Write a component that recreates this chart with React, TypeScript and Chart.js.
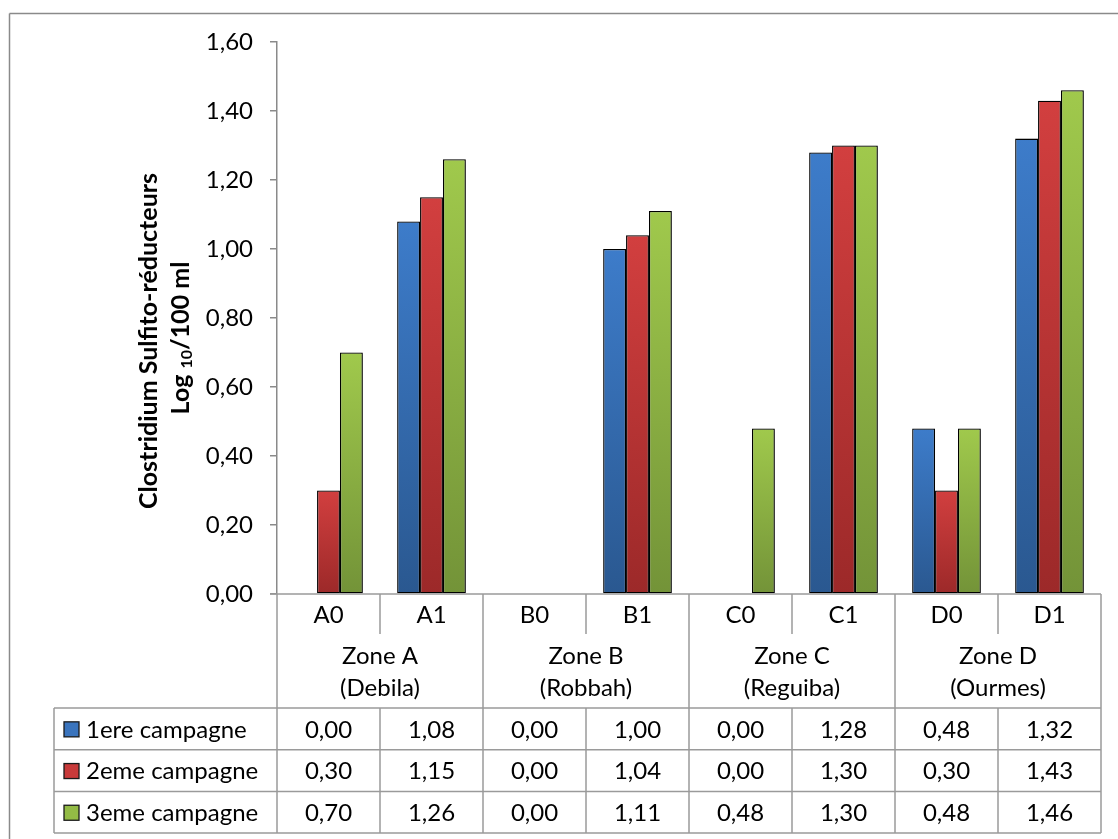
import React, { useEffect, useRef } from "react";
import { Chart, registerables } from "chart.js";

Chart.register(...registerables);

// Sampling points and zones
const categories = ["A0", "A1", "B0", "B1", "C0", "C1", "D0", "D1"];
const zoneNames = ["Zone A", "Zone B", "Zone C", "Zone D"];
const zoneSites = ["(Debila)", "(Robbah)", "(Reguiba)", "(Ourmes)"];

// Series (Log10 / 100 ml)
const seriesNames = ["1ere campagne", "2eme campagne", "3eme campagne"];
const campagne1 = [0.0, 1.08, 0.0, 1.0, 0.0, 1.28, 0.48, 1.32];
const campagne2 = [0.3, 1.15, 0.0, 1.04, 0.0, 1.3, 0.3, 1.43];
const campagne3 = [0.7, 1.26, 0.0, 1.11, 0.48, 1.3, 0.48, 1.46];

// Y axis
const yMin = 0;
const yMax = 1.6;
const yStep = 0.2;

const FONT = "Lato, 'Open Sans', sans-serif";
const FS = 24;
const TITLE_FS = 25;
const LINE = "#9a9a9a";

const fills = [
  { top: "#3d7cca", bottom: "#2a5890", key: "#3a74bd" },
  { top: "#d23f3f", bottom: "#9c2929", key: "#c83a3a" },
  { top: "#a0c94c", bottom: "#739338", key: "#93bb45" },
];

const fmt = (v: number) => v.toFixed(2).replace(".", ",");

const gradFill = (top: string, bottom: string) => (ctx: any) => {
  const chart = ctx.chart;
  const y = chart.scales?.y;
  if (!chart.chartArea || !y || ctx.type !== "data") return bottom;
  const y0 = y.getPixelForValue(0);
  const y1 = y.getPixelForValue(ctx.raw);
  if (!(y0 > y1)) return bottom;
  const g = chart.ctx.createLinearGradient(0, y1, 0, y0);
  g.addColorStop(0, top);
  g.addColorStop(1, bottom);
  return g;
};

const shadowPlugin = {
  id: "barShadow",
  beforeDatasetsDraw(chart: any) {
    const c = chart.ctx;
    c.save();
    c.shadowColor = "rgba(0,0,0,0.35)";
    c.shadowBlur = 3;
    c.shadowOffsetX = 1.5;
    c.shadowOffsetY = 1.5;
  },
  afterDatasetsDraw(chart: any) {
    chart.ctx.restore();
  },
};

const tablePlugin = {
  id: "dataTable",
  afterDraw(chart: any) {
    const c: CanvasRenderingContext2D = chart.ctx;
    const { left, right, bottom } = chart.chartArea;
    const n = categories.length;
    const cw = (right - left) / n;
    const xs = chart.scales.x;

    const rowCat = bottom + 40;
    const rowZone = bottom + 114;
    const rowH = 41.7;
    const tableBottom = rowZone + rowH * 3;
    const legendLeft = 54;

    c.save();
    c.strokeStyle = LINE;
    c.lineWidth = 1.5;
    const line = (x1: number, y1: number, x2: number, y2: number) => {
      c.beginPath();
      c.moveTo(x1, y1);
      c.lineTo(x2, y2);
      c.stroke();
    };

    // outer frame
    c.strokeStyle = "#8a8a8a";
    line(9.5, 13.5, 1118, 13.5);
    line(9.5, 13.5, 9.5, 839);
    c.strokeStyle = LINE;

    // axis baseline
    line(left - 7, bottom, right, bottom);
    // horizontal rules of the data rows
    for (let r = 0; r <= 3; r++) {
      const yy = rowZone + r * rowH;
      line(legendLeft, yy, right, yy);
    }
    line(legendLeft, rowZone, legendLeft, tableBottom);
    // vertical rules
    for (let i = 0; i <= n; i++) {
      const xx = left + i * cw;
      if (i % 2 === 0) {
        line(xx, bottom, xx, tableBottom);
      } else {
        line(xx, bottom, xx, rowCat);
        line(xx, rowZone, xx, tableBottom);
      }
    }

    c.fillStyle = "#000";
    c.textAlign = "center";
    c.textBaseline = "middle";
    c.font = `${FS}px ${FONT}`;
    categories.forEach((cat, i) => {
      c.fillText(cat, xs.getPixelForValue(i), bottom + 21);
    });
    zoneNames.forEach((z, k) => {
      const cx = left + (2 * k + 1) * cw;
      c.fillText(z, cx, bottom + 62);
      c.fillText(zoneSites[k], cx, bottom + 94);
    });

    const series = [campagne1, campagne2, campagne3];
    series.forEach((vals, r) => {
      const cy = rowZone + r * rowH + rowH / 2 + 1;
      vals.forEach((v, i) => {
        c.fillText(fmt(v), xs.getPixelForValue(i), cy);
      });
      // legend key
      c.fillStyle = fills[r].key;
      c.fillRect(64, cy - 8, 15, 15);
      c.strokeStyle = "#1a1a1a";
      c.lineWidth = 1.3;
      c.strokeRect(64, cy - 8, 15, 15);
      c.fillStyle = "#000";
      c.textAlign = "left";
      c.fillText(seriesNames[r], 86, cy);
      c.textAlign = "center";
    });

    // y axis title
    c.save();
    c.translate(149, 341);
    c.rotate(-Math.PI / 2);
    c.font = `bold ${TITLE_FS}px ${FONT}`;
    c.textAlign = "center";
    c.textBaseline = "middle";
    c.fillText("Clostridium Sulfito-réducteurs", 0, 0);
    c.restore();

    c.save();
    c.translate(181, 338);
    c.rotate(-Math.PI / 2);
    c.textBaseline = "middle";
    c.textAlign = "left";
    const big = `bold ${TITLE_FS}px ${FONT}`;
    const small = `bold ${Math.round(TITLE_FS * 0.65)}px ${FONT}`;
    c.font = big;
    const wLog = c.measureText("Log ").width;
    const wRest = c.measureText("/100 ml").width;
    c.font = small;
    const wSub = c.measureText("10").width;
    const total = wLog + wSub + wRest;
    let x0 = -total / 2;
    c.font = big;
    c.fillText("Log ", x0, 0);
    x0 += wLog;
    c.font = small;
    c.fillText("10", x0, 6);
    x0 += wSub;
    c.font = big;
    c.fillText("/100 ml", x0, 0);
    c.restore();

    c.restore();
  },
};

export default function App() {
  const ref = useRef<HTMLCanvasElement | null>(null);

  useEffect(() => {
    if (!ref.current) return;
    const seriesData = [campagne1, campagne2, campagne3];
    const chart = new Chart(ref.current, {
      type: "bar",
      data: {
        labels: categories,
        datasets: seriesData.map((d, k) => ({
          label: seriesNames[k],
          data: d,
          backgroundColor: gradFill(fills[k].top, fills[k].bottom),
          borderColor: "#000",
          borderWidth: (ctx: any) => (ctx.raw === 0 ? 0 : 1.3),
          borderSkipped: false,
          categoryPercentage: 0.667,
          barPercentage: 1,
        })),
      },
      options: {
        responsive: false,
        animation: false,
        layout: { padding: { top: 42, right: 17, bottom: 245, left: 0 } },
        plugins: {
          legend: { display: false },
          tooltip: { enabled: false },
        },
        scales: {
          x: { display: false, offset: true },
          y: {
            min: yMin,
            max: yMax,
            afterFit: (s: any) => {
              s.width = 277;
            },
            ticks: {
              stepSize: yStep,
              padding: 17,
              color: "#000",
              font: { family: FONT, size: FS },
              callback: (v: any) => fmt(Number(v)),
            },
            grid: {
              drawOnChartArea: false,
              drawTicks: true,
              tickLength: 7,
              color: "#8a8a8a",
              lineWidth: 1.5,
            },
            border: { display: true, color: "#8a8a8a", width: 1.5 },
          },
        },
      } as any,
      plugins: [shadowPlugin, tablePlugin],
    });
    const fonts: any = (document as any).fonts;
    if (fonts && fonts.load) {
      Promise.all([fonts.load(`${FS}px Lato`), fonts.load(`bold ${TITLE_FS}px Lato`)])
        .then(() => chart.update())
        .catch(() => {});
    }
    return () => chart.destroy();
  }, []);

  return (
    <div style={{ position: "absolute", left: 0, top: 0, width: 1118, height: 839, background: "#fff" }}>
      <canvas ref={ref} width={1118} height={839} style={{ display: "block" }} />
    </div>
  );
}
